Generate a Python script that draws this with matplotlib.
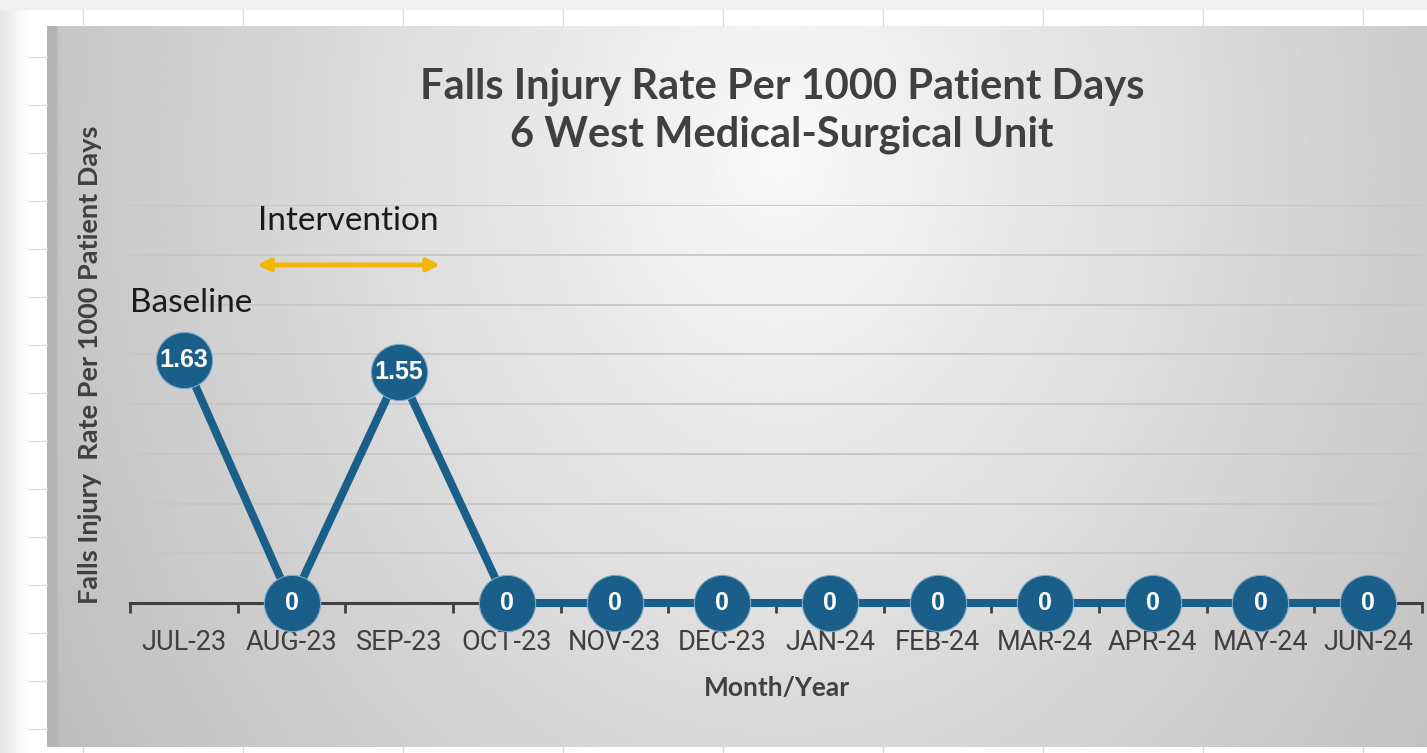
import numpy as np
import matplotlib.pyplot as plt
from matplotlib.lines import Line2D

months = ["JUL-23", "AUG-23", "SEP-23", "OCT-23", "NOV-23", "DEC-23",
          "JAN-24", "FEB-24", "MAR-24", "APR-24", "MAY-24", "JUN-24"]
rates = [1.63, 0, 1.55, 0, 0, 0, 0, 0, 0, 0, 0, 0]
rate_labels = ["1.63", "0", "1.55", "0", "0", "0", "0", "0", "0", "0", "0", "0"]

title = "Falls Injury Rate Per 1000 Patient Days\n6 West Medical-Surgical Unit"
ylabel = "Falls Injury  Rate Per 1000 Patient Days"
xlabel = "Month/Year"

HEAD = ['Lato', 'DejaVu Sans']
TICK = ['Roboto', 'DejaVu Sans']
BLUE = '#1a5f89'
GREY_TXT = '#404040'

W, H = 1427, 753
fig = plt.figure(figsize=(W / 100, H / 100), dpi=100)
fig.patch.set_facecolor('white')


def fx(px):
    return px / W


def fy(py):
    return 1 - py / H


# spreadsheet behind the chart
fig.patches.append(plt.Rectangle((0, fy(9)), 1, 9 / H, transform=fig.transFigure,
                                 color='#f0f0f0', zorder=0))
shade = fig.add_axes([0, 0, fx(28), fy(9)], zorder=0)
shade.imshow(np.linspace(0.90, 1.0, 50)[None, :], cmap='gray', vmin=0, vmax=1,
             aspect='auto', extent=[0, 1, 0, 1])
shade.axis('off')
for x in range(83, W, 160):
    fig.add_artist(Line2D([fx(x), fx(x)], [fy(26), fy(9)], color='#dddddd', lw=1))
    fig.add_artist(Line2D([fx(x), fx(x)], [0, fy(747)], color='#dddddd', lw=1))
for y in range(57, 750, 48):
    fig.add_artist(Line2D([fx(28), fx(47)], [fy(y), fy(y)], color='#dddddd', lw=1))

# chart area with soft radial gradient
bg = fig.add_axes([fx(47), fy(747), 1 - fx(47), (747 - 26) / H], zorder=1)
xs = np.linspace(47, W, 400)
ys = np.linspace(26, 747, 250)
gx, gy = np.meshgrid(xs, ys)
r = np.sqrt(((gx - 780) / 700) ** 2 + ((gy - 150) / 900) ** 2)
shade_val = np.clip(0.975 - 0.19 * r, 0, 1)
shade_val[:, :3] = 0.70
bg.imshow(shade_val, cmap='gray', vmin=0, vmax=1, aspect='auto',
          extent=[0, 1, 0, 1], interpolation='bilinear')
bg.axis('off')

# plot area
ax = fig.add_axes([fx(130), fy(603), fx(1422) - fx(130), (603 - 205) / H], zorder=2)
ax.patch.set_alpha(0)
x = np.arange(len(months))
ax.set_xlim(-0.5, len(months) - 0.5)
ax.set_ylim(0, 8 / 3)
ax.set_yticks(np.arange(1, 9) / 3)
ax.yaxis.grid(True, color='#c6c6c6', lw=1.3)
ax.tick_params(axis='y', length=0, labelleft=False)
for s in ['top', 'right', 'left']:
    ax.spines[s].set_visible(False)
ax.spines['bottom'].set_color(GREY_TXT)
ax.spines['bottom'].set_linewidth(2.2)

ax.set_xticks(np.arange(-0.5, len(months)), minor=False)
ax.set_xticklabels([])
ax.set_xticks(x, minor=True)
ax.set_xticklabels(months, minor=True, fontsize=19.5, family=TICK, color=GREY_TXT)
ax.tick_params(axis='x', which='major', length=7, width=2, color=GREY_TXT, direction='out')
ax.tick_params(axis='x', which='minor', length=0, pad=19)

ax.plot(x, rates, color=BLUE, lw=5.8, marker='o', markersize=40.5,
        markerfacecolor=BLUE, markeredgecolor='#7fa9c6', markeredgewidth=0.8,
        clip_on=False, zorder=5)
for xi, v, lab in zip(x, rates, rate_labels):
    ax.text(xi, v, lab, ha='center', va='center', color='white', fontsize=18,
            fontweight='bold', family=['Liberation Sans', 'DejaVu Sans'], zorder=6,
            clip_on=False)

# annotations
ax.text(-0.5, 2.01, "Baseline", fontsize=24, family=HEAD, color='#1a1a1a',
        ha='left', va='center')
ax.text(0.69, 2.56, "Intervention", fontsize=24, family=HEAD, color='#1a1a1a',
        ha='left', va='center')
ax.annotate("", xy=(0.68, 2.265), xytext=(2.38, 2.265),
            arrowprops=dict(arrowstyle='<|-|>', color='#f2b705', lw=3.5,
                            mutation_scale=18, shrinkA=0, shrinkB=0))

fig.text(fx(782), fy(111), title, ha='center', va='center', fontsize=30,
         fontweight='bold', family=HEAD, color=GREY_TXT, linespacing=1.32)
fig.text(fx(90), fy(365), ylabel, ha='center', va='center', rotation=90,
         fontsize=19.5, fontweight='bold', family=HEAD, color=GREY_TXT)
fig.text(fx(777), fy(688), xlabel, ha='center', va='center', fontsize=19,
         fontweight='bold', family=HEAD, color=GREY_TXT)

fig.savefig('out.png', dpi=100)
